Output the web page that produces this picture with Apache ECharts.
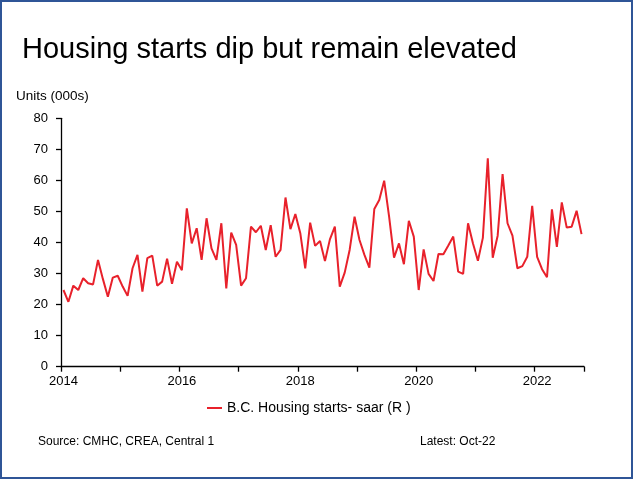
<!DOCTYPE html>
<html>
<head>
<meta charset="utf-8">
<script src="https://cdn.jsdelivr.net/npm/echarts@6/dist/echarts.min.js"></script>
<style>
  html, body { margin: 0; padding: 0; background: #fff; }
  #chart { width: 634px; height: 481px; }
</style>
</head>
<body>
<div id="chart"></div>
<script>
// B.C. housing starts, saar, thousands of units, monthly Jan-2014 .. Oct-2022
const years = ['2014', '2015', '2016', '2017', '2018', '2019', '2020', '2021', '2022']
const monthsInLastYear = 10

const starts2014 = [24.7, 20.9, 26.1, 24.7, 28.5, 26.9, 26.5, 34.4, 28.2, 22.5, 28.7, 29.3]
const starts2015 = [25.8, 22.8, 31.7, 36.0, 24.2, 35.0, 35.8, 26.1, 27.4, 34.8, 26.7, 33.8]
const starts2016 = [31.1, 51.0, 39.7, 44.6, 34.4, 47.8, 38.1, 34.4, 46.2, 25.2, 43.2, 39.2]
const starts2017 = [26.1, 28.5, 45.1, 43.3, 45.4, 37.6, 45.6, 35.4, 37.6, 54.5, 44.3, 49.2]
const starts2018 = [43.0, 31.7, 46.4, 38.9, 40.5, 34.0, 41.0, 45.1, 25.8, 30.3, 37.6, 48.3]
const starts2019 = [40.8, 36.0, 31.9, 50.8, 53.7, 59.9, 48.3, 35.1, 39.7, 33.0, 47.0, 41.9]
const starts2020 = [24.7, 37.8, 29.9, 27.6, 36.3, 36.2, 39.0, 41.9, 30.6, 29.9, 46.2, 39.7]
const starts2021 = [34.1, 41.5, 67.1, 35.1, 42.2, 62.0, 46.2, 42.2, 31.7, 32.4, 35.4, 51.8]
const starts2022 = [35.4, 31.4, 28.8, 50.7, 38.6, 52.9, 44.8, 45.1, 50.2, 42.7]

const yTicks = [0, 10, 20, 30, 40, 50, 60, 70, 80]

const seriesName = 'B.C. Housing starts- saar (R )'
const startsData = [].concat(starts2014, starts2015, starts2016, starts2017,
  starts2018, starts2019, starts2020, starts2021, starts2022)

// one category per month, label = year
const months = []
years.forEach(function (y, i) {
  const n = i === years.length - 1 ? monthsInLastYear : 12
  for (let m = 1; m <= n; m++) months.push(y + '-' + (m < 10 ? '0' + m : m))
})

const font = 'Liberation Sans'
const chart = echarts.init(document.getElementById('chart'), null, { renderer: 'canvas' })

chart.setOption({
  animation: false,
  backgroundColor: '#fff',
  textStyle: { fontFamily: font },
  grid: { left: 61, right: 50, top: 118.3, bottom: 114.3, containLabel: false },
  xAxis: {
    type: 'category',
    data: months,
    boundaryGap: true,
    axisLine: { lineStyle: { color: '#000', width: 1.3 } },
    axisTick: { show: true, interval: 11, length: 5, lineStyle: { color: '#000', width: 1.3 } },
    axisLabel: {
      interval: 23,
      margin: 8,
      color: '#000',
      fontSize: 13,
      fontFamily: font,
      formatter: function (v) { return v.slice(0, 4) }
    },
    splitLine: { show: false }
  },
  yAxis: {
    type: 'value',
    min: yTicks[0],
    max: yTicks[yTicks.length - 1],
    interval: 10,
    axisLine: { show: true, lineStyle: { color: '#000', width: 1.3 } },
    axisTick: { show: true, length: 5, lineStyle: { color: '#000', width: 1.3 } },
    axisLabel: { margin: 13, color: '#000', fontSize: 13, fontFamily: font },
    splitLine: { show: false }
  },
  legend: {
    left: 207,
    top: 401,
    padding: 0,
    icon: 'rect',
    itemWidth: 15,
    itemHeight: 2,
    itemGap: 5,
    textStyle: { color: '#000', fontSize: 14, fontFamily: font },
    data: [seriesName]
  },
  series: [{
    name: seriesName,
    type: 'line',
    data: startsData,
    symbol: 'none',
    color: '#E8212B',
    lineStyle: { color: '#E8212B', width: 2 }
  }],
  graphic: [
    {
      type: 'rect',
      shape: { x: 1, y: 1, width: 631, height: 477 },
      style: { fill: 'none', stroke: '#2F5597', lineWidth: 2 },
      silent: true
    },
    {
      type: 'text', left: 22, top: 35,
      style: { text: 'Housing starts dip but remain elevated', fill: '#000', font: '29px "' + font + '"' }
    },
    {
      type: 'text', left: 16, top: 89,
      style: { text: 'Units (000s)', fill: '#000', font: '13.5px "' + font + '"' }
    },
    {
      type: 'text', left: 38, top: 436,
      style: { text: 'Source: CMHC, CREA, Central 1', fill: '#000', font: '12px "' + font + '"' }
    },
    {
      type: 'text', left: 420, top: 436,
      style: { text: 'Latest: Oct-22', fill: '#000', font: '12px "' + font + '"' }
    }
  ]
})
</script>
</body>
</html>
